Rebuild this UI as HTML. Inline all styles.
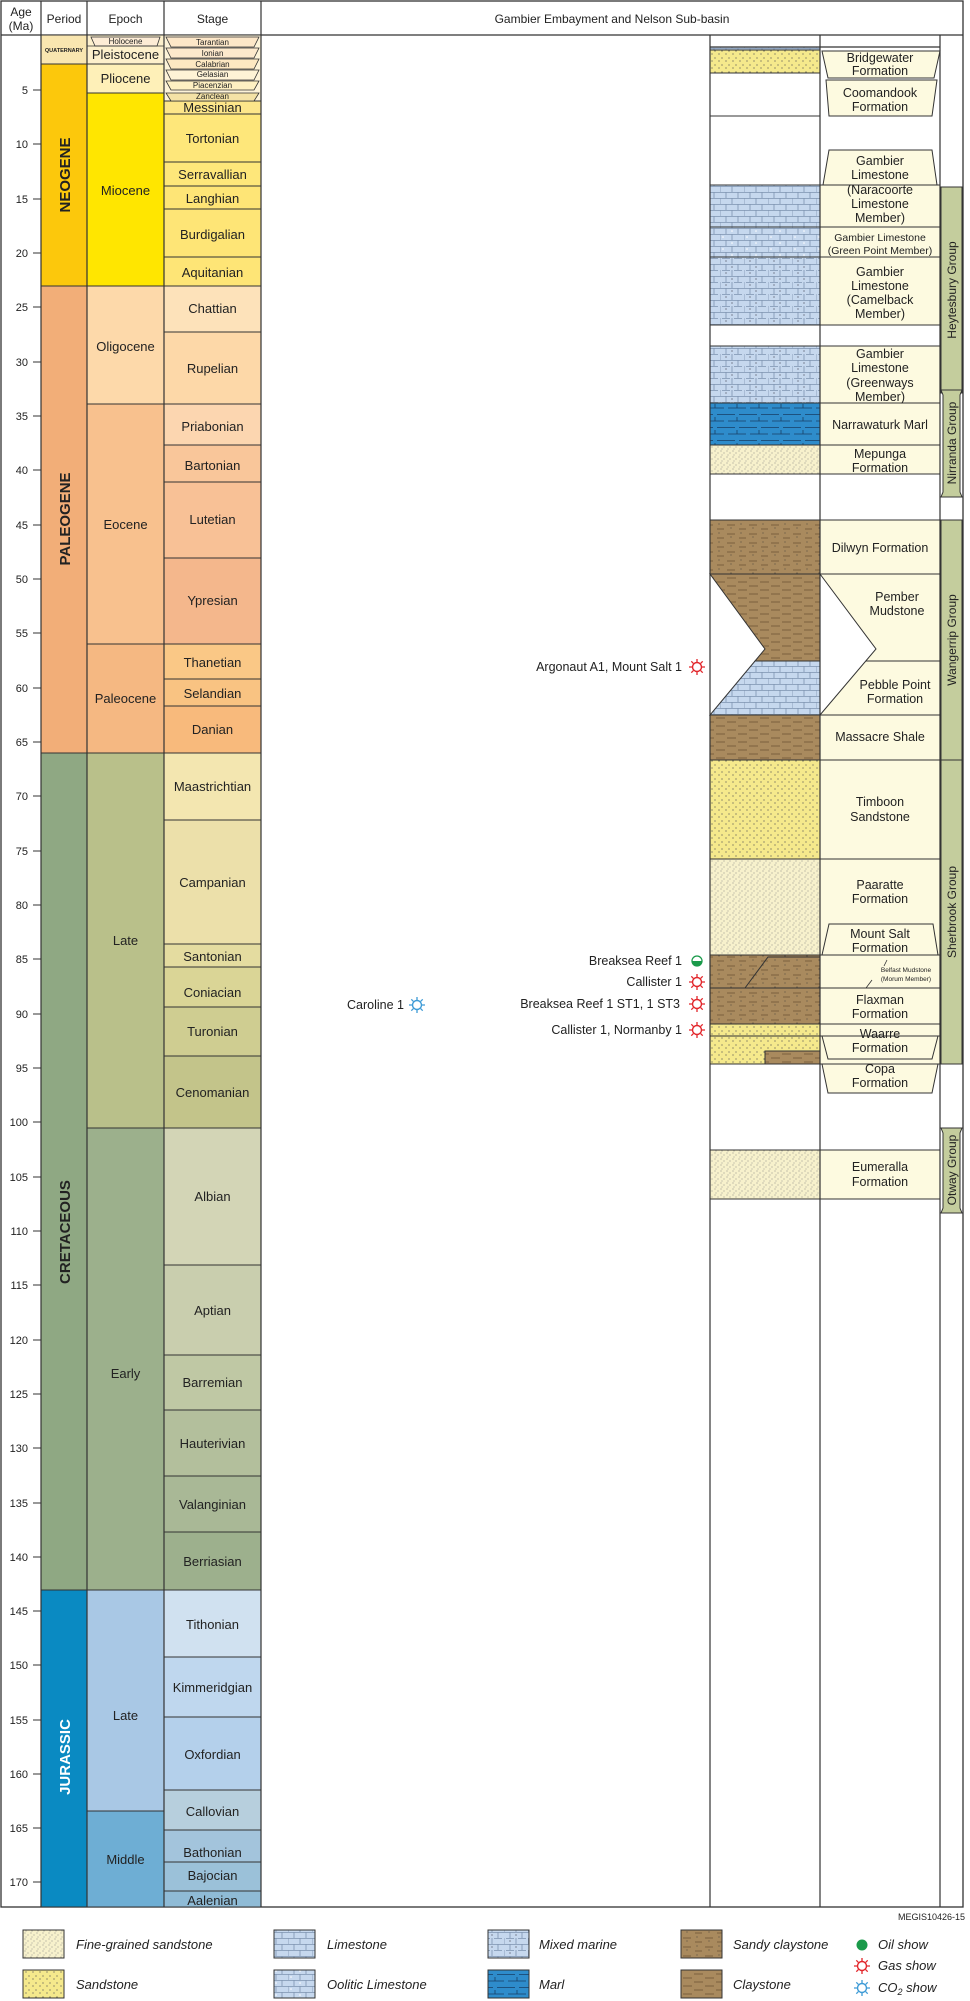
<!DOCTYPE html>
<html><head><meta charset="utf-8"><style>
html,body{margin:0;padding:0;background:#fff}
svg{display:block}
text{font-family:"Liberation Sans",Arial,sans-serif;fill:#222}
</style></head><body>
<svg width="970" height="2001" viewBox="0 0 970 2001" xmlns="http://www.w3.org/2000/svg">
<defs>
<pattern id="fsand" width="6" height="6" patternUnits="userSpaceOnUse"><rect width="6" height="6" fill="#f7f1cc"/><circle cx="1" cy="1" r="0.5" fill="#777"/><circle cx="4" cy="3" r="0.5" fill="#777"/><circle cx="2" cy="5" r="0.5" fill="#888"/></pattern>
<pattern id="sand" width="7" height="7" patternUnits="userSpaceOnUse"><rect width="7" height="7" fill="#f5e98c"/><circle cx="1" cy="2" r="0.6" fill="#555"/><circle cx="5" cy="5" r="0.6" fill="#555"/></pattern>
<pattern id="lime" width="24" height="12" patternUnits="userSpaceOnUse"><rect width="24" height="12" fill="#c6d8ee"/><path d="M0 0.5H24M0 6.5H24M6 0V6M18 0V6M0 6V12M12 6V12" stroke="#7d93b0" stroke-width="0.8" fill="none"/></pattern>
<pattern id="ool" width="24" height="12" patternUnits="userSpaceOnUse"><rect width="24" height="12" fill="#c6d8ee"/><path d="M0 0.5H24M0 6.5H24M6 0V6M18 0V6M0 6V12M12 6V12" stroke="#7d93b0" stroke-width="0.8" fill="none"/><circle cx="12" cy="3" r="0.8" fill="#fff"/><circle cx="3" cy="9" r="0.8" fill="#fff"/></pattern>
<pattern id="mix" width="24" height="12" patternUnits="userSpaceOnUse"><rect width="24" height="12" fill="#c6d8ee"/><path d="M0 0.5H24M6 0V6M18 0V6M0 6V12M12 6V12M2 6.5H10M14 6.5H22" stroke="#7d93b0" stroke-width="0.8" fill="none"/><circle cx="12" cy="3" r="0.6" fill="#445"/><circle cx="6" cy="9" r="0.6" fill="#445"/></pattern>
<pattern id="marl" width="22" height="13" patternUnits="userSpaceOnUse"><rect width="22" height="13" fill="#2e8ccb"/><path d="M2 5H20M11 1V5M-9 11.5H9M13 11.5H31" stroke="#173f66" stroke-width="0.8" fill="none"/></pattern>
<pattern id="sclay" width="22" height="9" patternUnits="userSpaceOnUse"><rect width="22" height="9" fill="#a98a5e"/><path d="M1 3H9M13 7H20" stroke="#6b5234" stroke-width="0.7"/><circle cx="15" cy="2" r="0.5" fill="#333"/><circle cx="5" cy="6" r="0.5" fill="#333"/></pattern>
<pattern id="clay" width="22" height="8" patternUnits="userSpaceOnUse"><rect width="22" height="8" fill="#a98a5e"/><path d="M1 2H10M12 6H21" stroke="#6b5234" stroke-width="0.7"/></pattern>
<g id="gas"><circle r="4.5" fill="none" stroke="#e2262b" stroke-width="1.4"/><path d="M0 -5V-8M0 5V8M-5 0H-8M5 0H8M-3.6 -3.6L-5.7 -5.7M3.6 -3.6L5.7 -5.7M-3.6 3.6L-5.7 5.7M3.6 3.6L5.7 5.7" stroke="#e2262b" stroke-width="1.3"/></g>
<g id="co2"><circle r="4.5" fill="none" stroke="#3e9bd6" stroke-width="1.4"/><path d="M0 -5V-8M0 5V8M-5 0H-8M5 0H8M-3.6 -3.6L-5.7 -5.7M3.6 -3.6L5.7 -5.7M-3.6 3.6L-5.7 5.7M3.6 3.6L5.7 5.7" stroke="#3e9bd6" stroke-width="1.3"/></g>
</defs>

<rect x="1" y="1" width="962" height="1906" fill="#fff" stroke="#333" stroke-width="1.3"/>
<line x1="1" y1="35" x2="963" y2="35" stroke="#333" stroke-width="1.2"/>
<text x="21" y="16" font-size="12" text-anchor="middle">Age</text>
<text x="21" y="30" font-size="12" text-anchor="middle">(Ma)</text>
<text x="64" y="23" font-size="12" text-anchor="middle">Period</text>
<text x="125.5" y="23" font-size="12" text-anchor="middle">Epoch</text>
<text x="212.5" y="23" font-size="12" text-anchor="middle">Stage</text>
<text x="612" y="23" font-size="12" text-anchor="middle">Gambier Embayment and Nelson Sub-basin</text>

<g stroke="#333" stroke-width="1">
<rect x="41" y="35" width="46" height="29" fill="#f9e6b0"/>
<rect x="41" y="64" width="46" height="222" fill="#fcc80c"/>
<rect x="41" y="286" width="46" height="467" fill="#f2ae78"/>
<rect x="41" y="753" width="46" height="837" fill="#8fa883"/>
<rect x="41" y="1590" width="46" height="317" fill="#0a8ac2"/>
<rect x="87" y="35" width="77" height="29" fill="#fdf0cc"/>
<rect x="87" y="64" width="77" height="29" fill="#fef0b8"/>
<rect x="87" y="93" width="77" height="193" fill="#ffe600"/>
<rect x="87" y="286" width="77" height="118" fill="#fdd9aa"/>
<rect x="87" y="404" width="77" height="240" fill="#f8c18e"/>
<rect x="87" y="644" width="77" height="109" fill="#f5b882"/>
<rect x="87" y="753" width="77" height="375" fill="#b9c08a"/>
<rect x="87" y="1128" width="77" height="462" fill="#9cb08c"/>
<rect x="87" y="1590" width="77" height="221" fill="#a9c8e5"/>
<rect x="87" y="1811" width="77" height="96" fill="#6eaed4"/>
<rect x="164" y="35" width="97" height="66" fill="#fdf3d8"/>
<rect x="164" y="101" width="97" height="13" fill="#fde68a"/>
<rect x="164" y="114" width="97" height="48" fill="#fee77a"/>
<rect x="164" y="162" width="97" height="24" fill="#fee77a"/>
<rect x="164" y="186" width="97" height="23" fill="#fee576"/>
<rect x="164" y="209" width="97" height="48" fill="#fee576"/>
<rect x="164" y="257" width="97" height="29" fill="#fee576"/>
<rect x="164" y="286" width="97" height="46" fill="#fde2ba"/>
<rect x="164" y="332" width="97" height="72" fill="#fdd8a8"/>
<rect x="164" y="404" width="97" height="41" fill="#fcd6b0"/>
<rect x="164" y="445" width="97" height="37" fill="#f9c69a"/>
<rect x="164" y="482" width="97" height="76" fill="#f8c196"/>
<rect x="164" y="558" width="97" height="86" fill="#f4b78c"/>
<rect x="164" y="644" width="97" height="35" fill="#fac886"/>
<rect x="164" y="679" width="97" height="27" fill="#f9c382"/>
<rect x="164" y="706" width="97" height="47" fill="#f8ba7c"/>
<rect x="164" y="753" width="97" height="67" fill="#f3e6b0"/>
<rect x="164" y="820" width="97" height="124" fill="#ece0aa"/>
<rect x="164" y="944" width="97" height="23" fill="#e4dca0"/>
<rect x="164" y="967" width="97" height="40" fill="#dad596"/>
<rect x="164" y="1007" width="97" height="49" fill="#cfcd91"/>
<rect x="164" y="1056" width="97" height="72" fill="#c3c48a"/>
<rect x="164" y="1128" width="97" height="137" fill="#d3d5b6"/>
<rect x="164" y="1265" width="97" height="90" fill="#c9ceae"/>
<rect x="164" y="1355" width="97" height="55" fill="#bfc8a4"/>
<rect x="164" y="1410" width="97" height="66" fill="#b3bf9c"/>
<rect x="164" y="1476" width="97" height="56" fill="#a9b896"/>
<rect x="164" y="1532" width="97" height="58" fill="#9db08d"/>
<rect x="164" y="1590" width="97" height="67" fill="#d0e1f0"/>
<rect x="164" y="1657" width="97" height="60" fill="#bfd7ee"/>
<rect x="164" y="1717" width="97" height="73" fill="#b4d0eb"/>
<rect x="164" y="1790" width="97" height="40" fill="#b7cfdd"/>
<rect x="164" y="1830" width="97" height="32" fill="#a3c4dc"/>
<rect x="164" y="1862" width="97" height="29" fill="#9bc1d9"/>
<rect x="164" y="1891" width="97" height="16" fill="#8fbbd6"/>
<g fill="#fde9c8" stroke-width="0.8">
<polygon points="91,37 160,37 157,46 95,46" fill="#fdecd5"/>
<polygon points="166,37 259,37 254,47 171,47" fill="#fde7c8"/>
<polygon points="166,48 259,48 254,58 171,58" fill="#fde9cc"/>
<polygon points="166,59 259,59 254,69 171,69" fill="#fde8c2"/>
<polygon points="166,70 259,70 254,80 171,80" fill="#fef3d6"/>
<polygon points="166,81 259,81 254,90 171,90" fill="#fef0c2"/>
<polygon points="166,93 259,93 254,101 171,101" fill="#f4e2a6"/>
</g>
</g>
<line x1="87" y1="46" x2="164" y2="46" stroke="#333" stroke-width="0.8"/>
<g font-size="8" text-anchor="middle" fill="#333">
<text x="125.5" y="44">Holocene</text>
<text x="212.5" y="45">Tarantian</text>
<text x="212.5" y="56">Ionian</text>
<text x="212.5" y="67">Calabrian</text>
<text x="212.5" y="77">Gelasian</text>
<text x="212.5" y="88">Piacenzian</text>
<text x="212.5" y="99">Zanclean</text>
</g>
<text x="64" y="52" font-size="5.5" font-weight="bold" text-anchor="middle">QUATERNARY</text>
<g font-size="13" text-anchor="middle">
<text x="125.5" y="59">Pleistocene</text>
<text x="125.5" y="83">Pliocene</text>
<text x="125.5" y="195">Miocene</text>
<text x="125.5" y="351">Oligocene</text>
<text x="125.5" y="529">Eocene</text>
<text x="125.5" y="703">Paleocene</text>
<text x="125.5" y="945">Late</text>
<text x="125.5" y="1378">Early</text>
<text x="125.5" y="1720">Late</text>
<text x="125.5" y="1864">Middle</text>
<text x="212.5" y="112">Messinian</text>
<text x="212.5" y="143">Tortonian</text>
<text x="212.5" y="179">Serravallian</text>
<text x="212.5" y="203">Langhian</text>
<text x="212.5" y="239">Burdigalian</text>
<text x="212.5" y="277">Aquitanian</text>
<text x="212.5" y="313">Chattian</text>
<text x="212.5" y="373">Rupelian</text>
<text x="212.5" y="431">Priabonian</text>
<text x="212.5" y="470">Bartonian</text>
<text x="212.5" y="524">Lutetian</text>
<text x="212.5" y="605">Ypresian</text>
<text x="212.5" y="667">Thanetian</text>
<text x="212.5" y="698">Selandian</text>
<text x="212.5" y="734">Danian</text>
<text x="212.5" y="791">Maastrichtian</text>
<text x="212.5" y="887">Campanian</text>
<text x="212.5" y="961">Santonian</text>
<text x="212.5" y="997">Coniacian</text>
<text x="212.5" y="1036">Turonian</text>
<text x="212.5" y="1097">Cenomanian</text>
<text x="212.5" y="1201">Albian</text>
<text x="212.5" y="1315">Aptian</text>
<text x="212.5" y="1387">Barremian</text>
<text x="212.5" y="1448">Hauterivian</text>
<text x="212.5" y="1509">Valanginian</text>
<text x="212.5" y="1566">Berriasian</text>
<text x="212.5" y="1629">Tithonian</text>
<text x="212.5" y="1692">Kimmeridgian</text>
<text x="212.5" y="1759">Oxfordian</text>
<text x="212.5" y="1816">Callovian</text>
<text x="212.5" y="1857">Bathonian</text>
<text x="212.5" y="1880">Bajocian</text>
<text x="212.5" y="1905">Aalenian</text>
</g>
<g font-size="15" font-weight="bold" text-anchor="middle">
<text transform="translate(70,175) rotate(-90)">NEOGENE</text>
<text transform="translate(70,519) rotate(-90)">PALEOGENE</text>
<text transform="translate(70,1232) rotate(-90)">CRETACEOUS</text>
<text transform="translate(70,1757) rotate(-90)" style="fill:#fff">JURASSIC</text>
</g>
<g stroke="#333" stroke-width="1">
<path d="M33 90H41M33 144H41M33 199H41M33 253H41M33 307H41M33 362H41M33 416H41M33 470H41M33 525H41M33 579H41M33 633H41M33 688H41M33 742H41M33 796H41M33 851H41M33 905H41M33 959H41M33 1014H41M33 1068H41M33 1122H41M33 1177H41M33 1231H41M33 1285H41M33 1340H41M33 1394H41M33 1448H41M33 1503H41M33 1557H41M33 1611H41M33 1665H41M33 1720H41M33 1774H41M33 1828H41M33 1882H41"/>
</g>
<g font-size="11" text-anchor="end">
<text x="28" y="94">5</text><text x="28" y="148">10</text><text x="28" y="203">15</text><text x="28" y="257">20</text><text x="28" y="311">25</text><text x="28" y="366">30</text><text x="28" y="420">35</text><text x="28" y="474">40</text><text x="28" y="529">45</text><text x="28" y="583">50</text><text x="28" y="637">55</text><text x="28" y="692">60</text><text x="28" y="746">65</text><text x="28" y="800">70</text><text x="28" y="855">75</text><text x="28" y="909">80</text><text x="28" y="963">85</text><text x="28" y="1018">90</text><text x="28" y="1072">95</text><text x="28" y="1126">100</text><text x="28" y="1181">105</text><text x="28" y="1235">110</text><text x="28" y="1289">115</text><text x="28" y="1344">120</text><text x="28" y="1398">125</text><text x="28" y="1452">130</text><text x="28" y="1507">135</text><text x="28" y="1561">140</text><text x="28" y="1615">145</text><text x="28" y="1669">150</text><text x="28" y="1724">155</text><text x="28" y="1778">160</text><text x="28" y="1832">165</text><text x="28" y="1886">170</text>
</g>
<g stroke="#333" stroke-width="1.2"><path d="M41 1V1907M87 1V1907M164 1V1907M261 1V1907"/></g>

<g stroke="#333" stroke-width="1">
<rect x="820" y="185" width="120" height="42" fill="#fdfae0"/>
<rect x="820" y="227" width="120" height="30" fill="#fdfae0"/>
<rect x="820" y="257" width="120" height="68" fill="#fdfae0"/>
<rect x="820" y="346" width="120" height="57" fill="#fdfae0"/>
<rect x="820" y="403" width="120" height="42" fill="#fdfae0"/>
<rect x="820" y="445" width="120" height="29" fill="#fdfae0"/>
<rect x="820" y="520" width="120" height="54" fill="#fdfae0"/>
<rect x="820" y="574" width="120" height="87" fill="#fdfae0"/>
<rect x="820" y="661" width="120" height="54" fill="#fdfae0"/>
<rect x="820" y="715" width="120" height="45" fill="#fdfae0"/>
<rect x="820" y="760" width="120" height="99" fill="#fdfae0"/>
<rect x="820" y="859" width="120" height="96" fill="#fdfae0"/>
<rect x="820" y="955" width="120" height="33" fill="#fdfae0"/>
<rect x="820" y="988" width="120" height="36" fill="#fdfae0"/>
<rect x="820" y="1024" width="120" height="40" fill="#fdfae0"/>
<rect x="820" y="1150" width="120" height="49" fill="#fdfae0"/>
<polygon points="820,574 876,649 820,715" fill="#fff"/>
<polygon points="822,51 940,51 934,78 828,78" fill="#fdfae0"/>
<polygon points="826,80 937,80 932,116 829,116" fill="#fdfae0"/>
<polygon points="829,150 932,150 937,185 823,185" fill="#fdfae0"/>
<polygon points="829,924 933,924 938,955 822,955" fill="#fdfae0"/>
<polygon points="820,1036 822,1036 828,1059 932,1059 938,1036 940,1036" fill="#fdfae0"/>
<polygon points="820,1064 822,1064 828,1093 932,1093 938,1064 940,1064" fill="#fdfae0"/>
</g>
<g stroke="#333" stroke-width="1">
<rect x="710" y="47" width="110" height="3" fill="url(#lime)"/>
<rect x="710" y="50" width="110" height="23" fill="url(#sand)"/>
<rect x="710" y="185" width="110" height="42" fill="url(#lime)"/>
<rect x="710" y="227" width="110" height="30" fill="url(#ool)"/>
<rect x="710" y="257" width="110" height="68" fill="url(#mix)"/>
<rect x="710" y="346" width="110" height="57" fill="url(#mix)"/>
<rect x="710" y="403" width="110" height="42" fill="url(#marl)"/>
<rect x="710" y="445" width="110" height="29" fill="url(#fsand)"/>
<rect x="710" y="520" width="110" height="54" fill="url(#sclay)"/>
<polygon points="710,574 820,574 820,661 755,661 765,649" fill="url(#clay)"/>
<polygon points="755,661 820,661 820,715 710,715" fill="url(#lime)"/>
<rect x="710" y="715" width="110" height="45" fill="url(#clay)"/>
<rect x="710" y="760" width="110" height="99" fill="url(#sand)"/>
<rect x="710" y="859" width="110" height="96" fill="url(#fsand)"/>
<rect x="710" y="955" width="110" height="33" fill="url(#sclay)"/>
<rect x="710" y="988" width="110" height="36" fill="url(#sclay)"/>
<rect x="710" y="1024" width="110" height="12" fill="url(#sand)"/>
<rect x="710" y="1036" width="110" height="28" fill="url(#sand)"/>
<rect x="765" y="1051" width="55" height="13" fill="url(#clay)"/>
<rect x="710" y="1150" width="110" height="49" fill="url(#fsand)"/>
<path d="M745 988L768 957H820" fill="none"/>
<path d="M710 35V1907M820 35V1907M940 35V1907M710 47H940" fill="none" stroke-width="1.2"/>
<path d="M710 73H820M710 116H820M710 325H940M710 474H940" fill="none"/>
</g>
<g stroke="#333" stroke-width="1" fill="#c4cd9d">
<rect x="941" y="187" width="21" height="206"/>
<path d="M943 395L941 390H962L960 395V492L962 497H941L943 492Z"/>
<rect x="941" y="520" width="21" height="240"/>
<rect x="941" y="760" width="21" height="304"/>
<path d="M943 1133L941 1128H962L960 1133V1208L962 1213H941L943 1208Z"/>
</g>
<g font-size="12" text-anchor="middle">
<text transform="translate(956,290) rotate(-90)">Heytesbury Group</text>
<text transform="translate(956,443) rotate(-90)">Nirranda Group</text>
<text transform="translate(956,640) rotate(-90)">Wangerrip Group</text>
<text transform="translate(956,912) rotate(-90)">Sherbrook Group</text>
<text transform="translate(956,1170) rotate(-90)">Otway Group</text>
</g>
<g font-size="12.5" text-anchor="middle">
<text x="880" y="62">Bridgewater</text><text x="880" y="75">Formation</text>
<text x="880" y="97">Coomandook</text><text x="880" y="111">Formation</text>
<text x="880" y="165">Gambier</text><text x="880" y="179">Limestone</text><text x="880" y="194">(Naracoorte</text><text x="880" y="208">Limestone</text><text x="880" y="222">Member)</text>
<text x="880" y="241" font-size="10.5">Gambier Limestone</text><text x="880" y="254" font-size="10.5">(Green Point Member)</text>
<text x="880" y="276">Gambier</text><text x="880" y="290">Limestone</text><text x="880" y="304">(Camelback</text><text x="880" y="318">Member)</text>
<text x="880" y="358">Gambier</text><text x="880" y="372">Limestone</text><text x="880" y="387">(Greenways</text><text x="880" y="401">Member)</text>
<text x="880" y="429">Narrawaturk Marl</text>
<text x="880" y="458">Mepunga</text><text x="880" y="472">Formation</text>
<text x="880" y="552">Dilwyn Formation</text>
<text x="897" y="601">Pember</text><text x="897" y="615">Mudstone</text>
<text x="895" y="689">Pebble Point</text><text x="895" y="703">Formation</text>
<text x="880" y="741">Massacre Shale</text>
<text x="880" y="806">Timboon</text><text x="880" y="821">Sandstone</text>
<text x="880" y="889">Paaratte</text><text x="880" y="903">Formation</text>
<text x="880" y="938">Mount Salt</text><text x="880" y="952">Formation</text>
<text x="880" y="1004">Flaxman</text><text x="880" y="1018">Formation</text>
<text x="880" y="1038">Waarre</text><text x="880" y="1052">Formation</text>
<text x="880" y="1073">Copa</text><text x="880" y="1087">Formation</text>
<text x="880" y="1171">Eumeralla</text><text x="880" y="1186">Formation</text>
</g>
<g font-size="6.5" text-anchor="middle" fill="#333"><text x="906" y="972">Belfast Mudstone</text><text x="906" y="981">(Morum Member)</text></g>
<path d="M884 966L887 960M866 988L872 980" stroke="#333" stroke-width="0.8"/>

<g font-size="12.5" text-anchor="end">
<text x="682" y="671">Argonaut A1, Mount Salt 1</text>
<text x="682" y="965">Breaksea Reef 1</text>
<text x="682" y="986">Callister 1</text>
<text x="680" y="1008">Breaksea Reef 1 ST1, 1 ST3</text>
<text x="682" y="1034">Callister 1, Normanby 1</text>
<text x="404" y="1009">Caroline 1</text>
</g>
<use href="#gas" x="697" y="667"/>
<use href="#gas" x="697" y="982"/>
<use href="#gas" x="697" y="1004"/>
<use href="#gas" x="697" y="1030"/>
<use href="#co2" x="417" y="1005"/>
<circle cx="697" cy="961" r="5" fill="#fff" stroke="#1a9a4a" stroke-width="1.3"/>
<path d="M692 961A5 5 0 0 0 702 961Z" fill="#1a9a4a"/>

<text x="965" y="1920" font-size="9" text-anchor="end">MEGIS10426-15</text>
<g stroke="#333" stroke-width="1">
<rect x="23" y="1930" width="41" height="28" fill="url(#fsand)"/>
<rect x="23" y="1970" width="41" height="28" fill="url(#sand)"/>
<rect x="274" y="1930" width="41" height="28" fill="url(#lime)"/>
<rect x="274" y="1970" width="41" height="28" fill="url(#ool)"/>
<rect x="488" y="1930" width="41" height="28" fill="url(#mix)"/>
<rect x="488" y="1970" width="41" height="28" fill="url(#marl)"/>
<rect x="681" y="1930" width="41" height="28" fill="url(#sclay)"/>
<rect x="681" y="1970" width="41" height="28" fill="url(#clay)"/>
</g>
<g font-size="13" font-style="italic">
<text x="76" y="1949">Fine-grained sandstone</text>
<text x="76" y="1989">Sandstone</text>
<text x="327" y="1949">Limestone</text>
<text x="327" y="1989">Oolitic Limestone</text>
<text x="539" y="1949">Mixed marine</text>
<text x="539" y="1989">Marl</text>
<text x="733" y="1949">Sandy claystone</text>
<text x="733" y="1989">Claystone</text>
<text x="878" y="1949">Oil show</text>
<text x="878" y="1970">Gas show</text>
<text x="878" y="1992">CO<tspan font-size="9" dy="3">2</tspan><tspan dy="-3"> show</tspan></text>
</g>
<circle cx="862" cy="1945" r="5.5" fill="#1a9a4a"/>
<use href="#gas" x="862" y="1966"/>
<use href="#co2" x="862" y="1988"/>
</svg>
</body></html>
